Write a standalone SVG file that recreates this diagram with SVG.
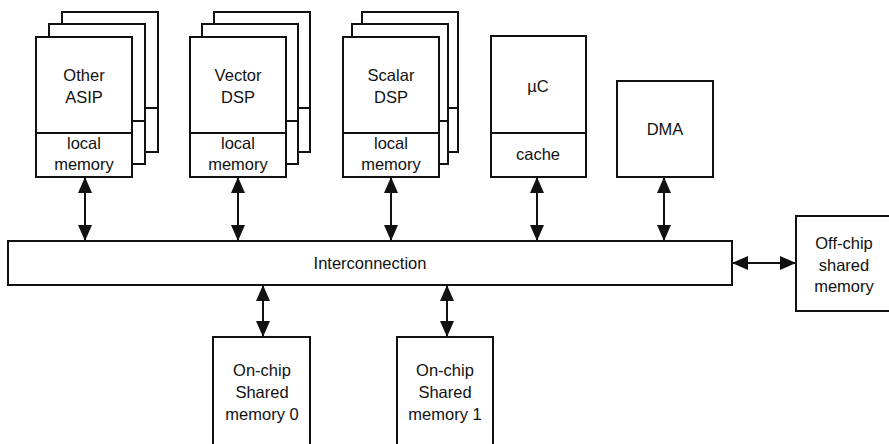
<svg xmlns="http://www.w3.org/2000/svg" width="889" height="444" viewBox="0 0 889 444">
  <style>
    .box { fill: #fff; stroke: #111; stroke-width: 2; }
    .div { stroke: #111; stroke-width: 2; }
    .lbl { font-family: "Liberation Sans", Arial, sans-serif; font-size: 16.5px; fill: #111; text-anchor: middle; }
    .link { stroke: #111; stroke-width: 2; fill: none; marker-start: url(#head); marker-end: url(#head); }
  </style>
  <defs>
    <marker id="head" markerUnits="userSpaceOnUse" markerWidth="16" markerHeight="14" viewBox="0 0 16 14" refX="15" refY="7" orient="auto-start-reverse">
      <path d="M0,0 L16,7 L0,14 Z" fill="#111"/>
    </marker>
  </defs>

  <rect width="889" height="444" fill="#fff"/>

  <!-- processor stacks: three cards each, back to front -->
  <g id="other-asip">
    <rect class="box" x="62" y="12" width="96" height="140"/>
    <line class="div" x1="62" y1="108" x2="158" y2="108"/>
    <rect class="box" x="49" y="24" width="96" height="140"/>
    <line class="div" x1="49" y1="121" x2="145" y2="121"/>
    <rect class="box" x="36" y="37" width="96" height="140"/>
    <line class="div" x1="36" y1="133" x2="132" y2="133"/>
    <text class="lbl" x="84" y="81">Other</text>
    <text class="lbl" x="84" y="103">ASIP</text>
    <text class="lbl" x="84" y="149">local</text>
    <text class="lbl" x="84" y="170">memory</text>
  </g>

  <g id="vector-dsp">
    <rect class="box" x="214" y="12" width="96" height="140"/>
    <line class="div" x1="214" y1="108" x2="310" y2="108"/>
    <rect class="box" x="202" y="24" width="96" height="140"/>
    <line class="div" x1="202" y1="121" x2="298" y2="121"/>
    <rect class="box" x="190" y="37" width="96" height="140"/>
    <line class="div" x1="190" y1="133" x2="286" y2="133"/>
    <text class="lbl" x="238" y="81">Vector</text>
    <text class="lbl" x="238" y="103">DSP</text>
    <text class="lbl" x="238" y="149">local</text>
    <text class="lbl" x="238" y="170">memory</text>
  </g>

  <g id="scalar-dsp">
    <rect class="box" x="362" y="12" width="96" height="140"/>
    <line class="div" x1="362" y1="108" x2="458" y2="108"/>
    <rect class="box" x="352" y="24" width="96" height="140"/>
    <line class="div" x1="352" y1="121" x2="448" y2="121"/>
    <rect class="box" x="343" y="37" width="96" height="140"/>
    <line class="div" x1="343" y1="133" x2="439" y2="133"/>
    <text class="lbl" x="391" y="81">Scalar</text>
    <text class="lbl" x="391" y="103">DSP</text>
    <text class="lbl" x="391" y="149">local</text>
    <text class="lbl" x="391" y="170">memory</text>
  </g>

  <g id="micro-controller">
    <rect class="box" x="491" y="36" width="95" height="141"/>
    <line class="div" x1="491" y1="133" x2="586" y2="133"/>
    <text class="lbl" x="538" y="92">µC</text>
    <text class="lbl" x="538" y="160">cache</text>
  </g>

  <g id="dma">
    <rect class="box" x="617" y="81" width="96" height="96"/>
    <text class="lbl" x="665" y="135">DMA</text>
  </g>

  <g id="interconnection">
    <rect class="box" x="8" y="241" width="724" height="44"/>
    <text class="lbl" x="370" y="269">Interconnection</text>
  </g>

  <g id="offchip-memory">
    <rect class="box" x="796" y="216" width="100" height="95"/>
    <text class="lbl" x="844" y="249">Off-chip</text>
    <text class="lbl" x="844" y="271">shared</text>
    <text class="lbl" x="844" y="292">memory</text>
  </g>

  <g id="onchip-memory-0">
    <rect class="box" x="213" y="337" width="97" height="120"/>
    <text class="lbl" x="262" y="376">On-chip</text>
    <text class="lbl" x="262" y="398">Shared</text>
    <text class="lbl" x="262" y="420">memory 0</text>
  </g>

  <g id="onchip-memory-1">
    <rect class="box" x="397" y="337" width="96" height="120"/>
    <text class="lbl" x="445" y="376">On-chip</text>
    <text class="lbl" x="445" y="398">Shared</text>
    <text class="lbl" x="445" y="420">memory 1</text>
  </g>

  <!-- bidirectional links -->
  <g id="connectors">
    <line class="link" x1="85" y1="178" x2="85" y2="240"/>
    <line class="link" x1="238" y1="178" x2="238" y2="240"/>
    <line class="link" x1="391" y1="178" x2="391" y2="240"/>
    <line class="link" x1="537" y1="178" x2="537" y2="240"/>
    <line class="link" x1="664" y1="178" x2="664" y2="240"/>
    <line class="link" x1="263" y1="286" x2="263" y2="336"/>
    <line class="link" x1="447" y1="286" x2="447" y2="336"/>
    <line class="link" x1="733" y1="263" x2="795" y2="263"/>
  </g>
</svg>
